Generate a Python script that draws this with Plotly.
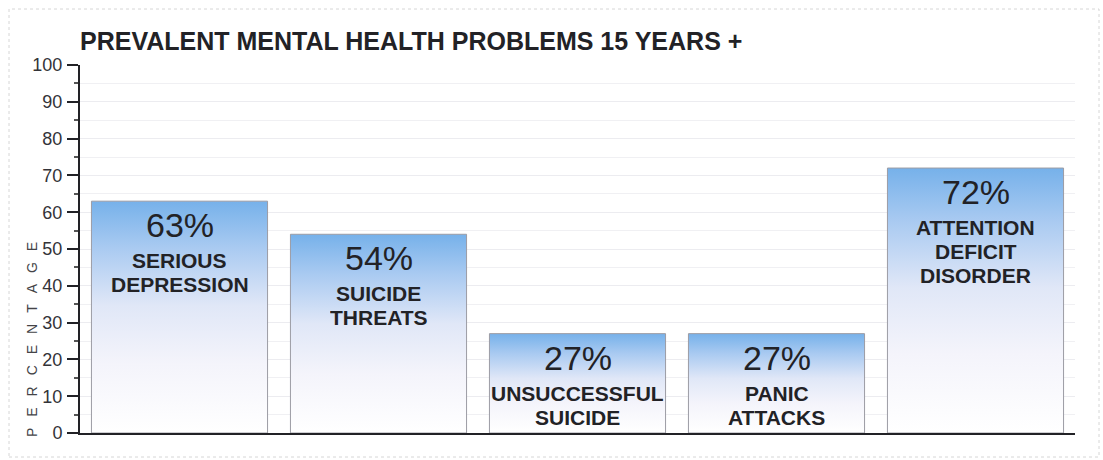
import plotly.graph_objects as go

# Share of respondents (15 years and over) reporting each problem, in percent
values = [63, 54, 27, 27, 72]
label_lines = [
    ["SERIOUS", "DEPRESSION"],
    ["SUICIDE", "THREATS"],
    ["UNSUCCESSFUL", "SUICIDE"],
    ["PANIC", "ATTACKS"],
    ["ATTENTION", "DEFICIT", "DISORDER"],
]
y_ticks = [0, 10, 20, 30, 40, 50, 60, 70, 80, 90, 100]

title_text = "PREVALENT MENTAL HEALTH PROBLEMS 15 YEARS +"
axis_title = "PERCENTAGE"

FONT = "Liberation Sans, Arial, Helvetica, sans-serif"
INK = "#222226"
BAR_W = 0.885

W, H = 1103, 460
ML, MR, MT, MB = 80, 28, 65, 27
PW, PH = W - ML - MR, H - MT - MB

positions = list(range(len(values)))

fig = go.Figure()

# Gradient-filled bar bodies (blue at the top fading to white at the base)
for x, v in zip(positions, values):
    fig.add_trace(go.Scatter(
        x=[x - BAR_W / 2, x + BAR_W / 2, x + BAR_W / 2, x - BAR_W / 2, x - BAR_W / 2],
        y=[0, 0, v, v, 0],
        mode="lines",
        fill="toself",
        fillgradient=dict(
            type="vertical",
            start=0,
            stop=v,
            colorscale=[
                [0.0, "#ffffff"],
                [0.3, "#f4f4fb"],
                [0.55, "#e0e7f7"],
                [0.8, "#a9caf1"],
                [1.0, "#76b1ea"],
            ],
        ),
        line=dict(color="#9c9ca4", width=1),
        hoverinfo="skip",
        showlegend=False,
    ))

# The bars themselves (transparent, carry the values and hover)
fig.add_trace(go.Bar(
    x=positions,
    y=values,
    width=BAR_W,
    marker=dict(color="rgba(0,0,0,0)", line=dict(width=0)),
    customdata=[" ".join(l) for l in label_lines],
    hovertemplate="%{customdata}: %{y}%<extra></extra>",
    showlegend=False,
))

annotations = []
for x, v, lines in zip(positions, values, label_lines):
    annotations.append(dict(
        x=x, y=v, xref="x", yref="y", yshift=-24, yanchor="middle",
        text=f"{v}%", showarrow=False, height=30,
        font=dict(family=FONT, size=34, color=INK),
    ))
    for k, line in enumerate(lines):
        annotations.append(dict(
            x=x, y=v, xref="x", yref="y", yshift=-(59 + 24 * k), yanchor="middle",
            text=f"<b>{line}</b>", showarrow=False, height=22,
            font=dict(family=FONT, size=21, color=INK),
        ))

# Letter-spaced vertical axis title
spaced = "\u2002\u2009\u200a".join(axis_title)
annotations.append(dict(
    x=(32 - ML) / PW, y=(H - MB - 340) / PH, xref="paper", yref="paper",
    text=spaced, textangle=-90, showarrow=False,
    xanchor="center", yanchor="middle",
    font=dict(family=FONT, size=14, color="#444448"),
))

fig.update_layout(
    width=W, height=H,
    margin=dict(l=ML, r=MR, t=MT, b=MB),
    paper_bgcolor="white",
    plot_bgcolor="white",
    title=dict(
        text=f"<b>{title_text}</b>",
        x=ML / W, xanchor="left",
        y=1 - 41 / H, yanchor="middle",
        font=dict(family=FONT, size=25, color=INK),
    ),
    annotations=annotations,
    shapes=[dict(
        type="rect", xref="paper", yref="paper",
        x0=(9 - ML) / PW, x1=(1099 - ML) / PW,
        y0=(H - MB - 457) / PH, y1=(H - MB - 9) / PH,
        line=dict(color="#d6d6d6", width=1, dash="dot"),
        layer="below",
    )],
    bargap=0,
)

fig.update_xaxes(
    range=[-0.5, len(values) - 0.5],
    showticklabels=False,
    ticks="",
    showgrid=False,
    zeroline=False,
    showline=True, linecolor=INK, linewidth=2,
)

fig.update_yaxes(
    range=[0, 100],
    tickvals=y_ticks,
    ticks="outside", ticklen=11, tickwidth=2, tickcolor=INK,
    ticklabelstandoff=1,
    tickfont=dict(family=FONT, size=18, color="#333338"),
    showline=True, linecolor=INK, linewidth=2,
    showgrid=True, gridcolor="#ececf0", gridwidth=1,
    zeroline=False,
    minor=dict(dtick=5, ticks="outside", ticklen=4, tickcolor="#555",
               showgrid=True, gridcolor="#f0f0f3"),
)

fig.write_html("out.html")
